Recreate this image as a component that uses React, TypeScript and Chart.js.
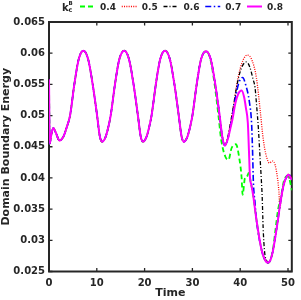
import React, { useEffect, useRef } from "react";
import { Chart, registerables } from "chart.js";

Chart.register(...registerables);

const FONT_FAMILY = '"DejaVu Sans", "Liberation Sans", sans-serif';
const INK = "#262626";

// Shared history (all k values coincide until ~t = 33)
const commonTime = [0, 0.15, 0.5, 0.9, 1.4, 2.2, 3.0, 3.7, 4.4, 5.3, 6.2, 7.2, 8.2, 9.1, 10.06, 10.6, 11.1, 11.8, 12.3, 12.9, 13.8, 14.7, 15.75, 16.75, 17.65, 18.6, 19.15, 19.65, 20.35, 20.85, 21.45, 22.35, 23.25, 24.3, 25.3, 26.2, 27.15, 27.7, 28.2, 28.9, 29.4, 30.0, 30.9, 31.8, 32.85];
const commonEnergy = [0.0558, 0.0455, 0.0470, 0.0480, 0.0473, 0.0460, 0.0466, 0.0481, 0.0500, 0.0550, 0.0590, 0.0604, 0.0590, 0.0552, 0.0500, 0.0468, 0.0458, 0.0465, 0.0478, 0.0500, 0.0550, 0.0590, 0.0604, 0.0590, 0.0552, 0.0500, 0.0468, 0.0458, 0.0465, 0.0478, 0.0500, 0.0550, 0.0590, 0.0604, 0.0590, 0.0552, 0.0500, 0.0468, 0.0458, 0.0465, 0.0478, 0.0500, 0.0550, 0.0590, 0.0603];

// k = 0.4
const tail04Time = [33.7, 34.5, 35.45, 36.0, 36.9, 37.55, 38.2, 39.1, 39.8, 40.3, 40.5, 41.0, 41.4, 41.8, 42.1, 42.3, 42.7, 43.4, 44.4, 45.1, 45.8, 46.4, 46.9, 47.4, 47.9, 48.5, 49.1, 49.8, 50.3, 50.8];
const tail04Energy = [0.0592, 0.0558, 0.0500, 0.0462, 0.0434, 0.0429, 0.0448, 0.0454, 0.0432, 0.0400, 0.0373, 0.0400, 0.0402, 0.0408, 0.0398, 0.0390, 0.0373, 0.0333, 0.0287, 0.0270, 0.0264, 0.0270, 0.0288, 0.0318, 0.0348, 0.0368, 0.0394, 0.0403, 0.0398, 0.0380];

// k = 0.5
const tail05Time = [33.85, 34.75, 35.7, 36.25, 36.8, 37.4, 37.9, 38.6, 39.3, 40.3, 41.5, 42.5, 43.4, 44.2, 44.7, 45.1, 45.5, 46.1, 46.8, 47.3, 47.8, 48.1, 48.3, 48.6, 49.1, 49.6, 50.1, 50.8];
const tail05Energy = [0.0590, 0.0552, 0.0500, 0.0466, 0.0452, 0.0465, 0.0485, 0.0515, 0.0550, 0.0583, 0.0597, 0.0588, 0.0560, 0.0507, 0.0470, 0.0448, 0.0434, 0.0424, 0.0427, 0.0421, 0.0400, 0.0378, 0.0352, 0.0368, 0.0390, 0.0401, 0.0406, 0.0400];

// k = 0.6
const tail06Time = [33.85, 34.75, 35.7, 36.25, 36.8, 37.4, 37.9, 38.6, 39.3, 40.2, 41.3, 42.0, 42.7, 43.1, 43.5, 43.8, 44.1, 44.4, 44.6, 44.8, 45.1, 45.5, 45.8, 46.4, 46.9, 47.4, 47.9, 48.4, 49.1, 49.6, 50.1, 50.8];
const tail06Energy = [0.0590, 0.0552, 0.0500, 0.0466, 0.0452, 0.0465, 0.0485, 0.0515, 0.0548, 0.0575, 0.0586, 0.0578, 0.0558, 0.0545, 0.0510, 0.0480, 0.0440, 0.0400, 0.0370, 0.0320, 0.0282, 0.0268, 0.0264, 0.0270, 0.0285, 0.0308, 0.0333, 0.0360, 0.0389, 0.0400, 0.0405, 0.0398];

// k = 0.7
const tail07Time = [33.85, 34.75, 35.7, 36.25, 36.8, 37.4, 37.9, 38.4, 39.0, 39.7, 40.5, 41.2, 41.9, 42.4, 42.6, 42.75, 43.1, 43.4, 44.4, 45.1, 45.8, 46.4, 46.9, 47.4, 47.9, 48.4, 49.1, 49.6, 50.1, 50.8];
const tail07Energy = [0.0590, 0.0552, 0.0500, 0.0466, 0.0452, 0.0462, 0.0480, 0.0500, 0.0528, 0.0552, 0.0561, 0.0548, 0.0523, 0.0485, 0.0440, 0.0395, 0.0360, 0.0333, 0.0287, 0.0270, 0.0264, 0.0270, 0.0285, 0.0308, 0.0333, 0.0360, 0.0389, 0.0400, 0.0406, 0.0398];

// k = 0.8
const tail08Time = [33.85, 34.75, 35.7, 36.25, 36.8, 37.4, 37.9, 38.4, 39.0, 39.6, 40.3, 40.8, 41.2, 41.6, 41.85, 42.05, 42.3, 42.7, 43.4, 44.4, 45.1, 45.8, 46.4, 46.9, 47.4, 47.9, 48.4, 49.1, 49.6, 50.1, 50.8];
const tail08Energy = [0.0590, 0.0552, 0.0500, 0.0466, 0.0452, 0.0462, 0.0478, 0.0495, 0.0520, 0.0535, 0.0540, 0.0530, 0.0512, 0.0488, 0.0440, 0.0400, 0.0390, 0.0373, 0.0333, 0.0287, 0.0270, 0.0264, 0.0270, 0.0285, 0.0308, 0.0333, 0.0360, 0.0389, 0.0400, 0.0405, 0.0397];

const seriesLabels = ["0.4", "0.5", "0.6", "0.7", "0.8"];
const seriesTails = [
  [tail04Time, tail04Energy],
  [tail05Time, tail05Energy],
  [tail06Time, tail06Energy],
  [tail07Time, tail07Energy],
  [tail08Time, tail08Energy],
];
const seriesColors = ["#00ff00", "#ff0000", "#000000", "#0000ff", "#ff00ff"];
const seriesDashes = [[5, 3], [1, 1.3], [4, 2, 1, 2], [6, 2.5, 1.5, 2.5], []];
const seriesWidths = [1.8, 1.3, 1.3, 1.6, 2];

const xTicks = [0, 10, 20, 30, 40, 50];
const xTickLabels = ["0", "10", "20", "30", "40", "50"];
const yTicks = [0.025, 0.03, 0.035, 0.04, 0.045, 0.05, 0.055, 0.06, 0.065];
const yTickLabels = ["0.025", "0.03", "0.035", "0.04", "0.045", "0.05", "0.055", "0.06", "0.065"];

const boxPlugin = {
  id: "matlabBox",
  beforeDatasetsDraw(chart: any) {
    const { ctx, chartArea: a, scales } = chart;
    const xs = scales.x;
    const ys = scales.y;
    ctx.save();
    ctx.strokeStyle = INK;
    ctx.setLineDash([]);
    ctx.lineWidth = 1.3;
    const tl = 3.5;
    ctx.beginPath();
    xs.ticks.forEach((t: any) => {
      const px = xs.getPixelForValue(t.value);
      ctx.moveTo(px, a.bottom);
      ctx.lineTo(px, a.bottom - tl);
      ctx.moveTo(px, a.top);
      ctx.lineTo(px, a.top + tl);
    });
    ys.ticks.forEach((t: any) => {
      const py = ys.getPixelForValue(t.value);
      ctx.moveTo(a.left, py);
      ctx.lineTo(a.left + tl, py);
      ctx.moveTo(a.right, py);
      ctx.lineTo(a.right - tl, py);
    });
    ctx.stroke();
    ctx.lineWidth = 2;
    ctx.strokeRect(a.left, a.top, a.right - a.left, a.bottom - a.top);
    ctx.restore();
  },
};

const legendPlugin = {
  id: "kLegend",
  afterDraw(chart: any) {
    const ctx = chart.ctx;
    ctx.save();
    ctx.fillStyle = INK;
    ctx.textAlign = "left";
    ctx.textBaseline = "alphabetic";
    ctx.font = `bold 10px ${FONT_FAMILY}`;
    ctx.fillText("k", 62, 10.5);
    ctx.font = `bold 5.5px ${FONT_FAMILY}`;
    ctx.fillText("B", 68.5, 5);
    ctx.font = `bold 6.5px ${FONT_FAMILY}`;
    ctx.fillText("c", 68.5, 12);
    chart.data.datasets.forEach((ds: any, i: number) => {
      const x0 = 80 + i * 41.75;
      ctx.strokeStyle = ds.borderColor;
      ctx.lineWidth = ds.borderWidth;
      ctx.setLineDash(ds.borderDash || []);
      ctx.beginPath();
      ctx.moveTo(x0, 6.5);
      ctx.lineTo(x0 + 15, 6.5);
      ctx.stroke();
      ctx.setLineDash([]);
      ctx.font = `bold 9px ${FONT_FAMILY}`;
      ctx.fillStyle = INK;
      ctx.fillText(ds.label, x0 + 20, 10);
    });
    ctx.restore();
  },
};

export default function App() {
  const canvasRef = useRef<HTMLCanvasElement | null>(null);

  useEffect(() => {
    if (!canvasRef.current) return;
    const datasets = seriesLabels.map((label, i) => {
      const times = [...commonTime, ...seriesTails[i][0]];
      const vals = [...commonEnergy, ...seriesTails[i][1]];
      return {
        label,
        data: times.map((t, j) => ({ x: t, y: vals[j] })),
        borderColor: seriesColors[i],
        backgroundColor: seriesColors[i],
        borderDash: seriesDashes[i],
        borderWidth: seriesWidths[i],
        pointRadius: 0,
        fill: false,
        cubicInterpolationMode: "monotone" as const,
        order: seriesLabels.length - 1 - i,
      };
    });

    const chart = new Chart(canvasRef.current, {
      type: "line",
      data: { datasets },
      options: {
        responsive: false,
        animation: false,
        devicePixelRatio: 1,
        layout: { padding: { top: 22, right: 3, left: 0, bottom: 0 } },
        plugins: {
          legend: { display: false },
          tooltip: { enabled: false },
        },
        scales: {
          x: {
            type: "linear",
            min: 0,
            max: 50.8,
            grid: { display: false, drawTicks: false },
            border: { display: false },
            afterBuildTicks: (s: any) => {
              s.ticks = xTicks.map((v) => ({ value: v }));
            },
            afterFit: (s: any) => {
              s.height = 28.5;
            },
            ticks: {
              padding: 6,
              autoSkip: false,
              maxRotation: 0,
              color: INK,
              font: { family: FONT_FAMILY, size: 10, weight: "bold" },
              callback: (_v: any, i: number) => xTickLabels[i],
            },
            title: {
              display: true,
              text: "Time",
              color: INK,
              font: { family: FONT_FAMILY, size: 11, weight: "bold", lineHeight: 1.2 },
              padding: { top: 0, bottom: 0 },
            },
          },
          y: {
            type: "linear",
            min: 0.025,
            max: 0.065,
            grid: { display: false, drawTicks: false },
            border: { display: false },
            afterBuildTicks: (s: any) => {
              s.ticks = yTicks.map((v) => ({ value: v }));
            },
            afterFit: (s: any) => {
              s.width = 49;
            },
            ticks: {
              padding: 4,
              autoSkip: false,
              color: INK,
              font: { family: FONT_FAMILY, size: 10, weight: "bold" },
              callback: (_v: any, i: number) => yTickLabels[i],
            },
            title: {
              display: true,
              text: "Domain Boundary Energy",
              color: INK,
              font: { family: FONT_FAMILY, size: 11, weight: "bold", lineHeight: 1.1 },
              padding: { top: 0, bottom: 0 },
            },
          },
        },
      },
      plugins: [boxPlugin, legendPlugin],
    } as any);

    return () => chart.destroy();
  }, []);

  return (
    <div style={{ position: "absolute", left: 0, top: 0, width: 301, height: 300 }}>
      <canvas ref={canvasRef} width={301} height={300} style={{ display: "block" }} />
    </div>
  );
}
